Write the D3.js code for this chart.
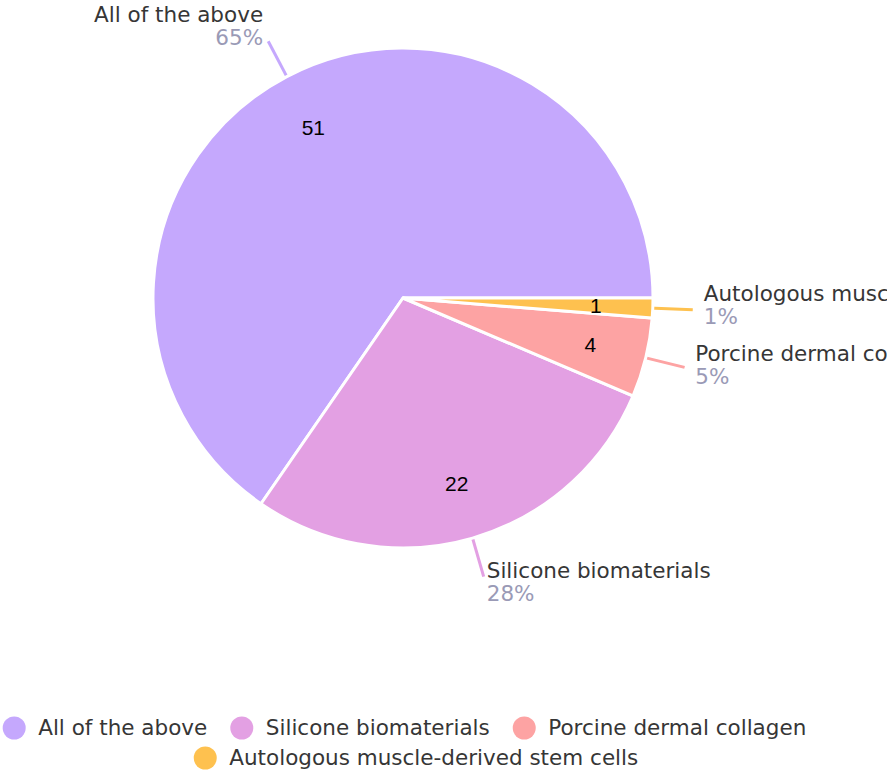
<!DOCTYPE html>
<html>
<head>
<meta charset="utf-8">
<script src="https://cdn.jsdelivr.net/npm/d3@7"></script>
<style>
  html, body { margin: 0; padding: 0; background: #fff; overflow: hidden; }
  svg { display: block; }
</style>
</head>
<body>
<svg id="chart" width="887" height="772"></svg>
<script>
const categories = ["All of the above", "Silicone biomaterials", "Porcine dermal collagen", "Autologous muscle-derived stem cells"];
const values = [51, 22, 4, 1];
const colors = ["#c5a8fd", "#e3a0e3", "#fda3a3", "#fec14f"];

const W = 887, H = 772;
const cx = 403, cy = 298, R = 250;
const labelFont = "'DejaVu Sans', sans-serif";
const textColor = "#363636";
const pctColor = "#9a9ab6";

const data = categories.map((c, i) => ({ name: c, value: values[i], color: colors[i] }));
const total = d3.sum(values);

const svg = d3.select("#chart");
const g = svg.append("g").attr("transform", `translate(${cx},${cy})`);

const pie = d3.pie().sort(null).value(d => d.value)
  .startAngle(Math.PI / 2).endAngle(Math.PI / 2 - 2 * Math.PI);
const arcs = pie(data);
const arc = d3.arc().innerRadius(0).outerRadius(R);

const mid = a => (a.startAngle + a.endAngle) / 2;
const pt = (ang, r) => [Math.sin(ang) * r, -Math.cos(ang) * r];

// connectors
g.selectAll("line.conn").data(arcs).enter().append("line")
  .attr("class", "conn")
  .attr("x1", d => pt(mid(d), R - 4)[0])
  .attr("y1", d => pt(mid(d), R - 4)[1])
  .attr("x2", d => pt(mid(d), R + 40)[0])
  .attr("y2", d => pt(mid(d), R + 40)[1])
  .attr("stroke", d => d.data.color)
  .attr("stroke-width", 3);

// slices
g.selectAll("path.slice").data(arcs).enter().append("path")
  .attr("class", "slice")
  .attr("d", arc)
  .attr("fill", d => d.data.color)
  .attr("stroke", "#fff")
  .attr("stroke-width", 3)
  .attr("stroke-linejoin", "miter");

// inner value labels
g.selectAll("text.val").data(arcs).enter().append("text")
  .attr("class", "val")
  .attr("x", d => pt(mid(d), 193)[0])
  .attr("y", d => pt(mid(d), 193)[1] + 7.5)
  .attr("text-anchor", "middle")
  .attr("font-family", "'Liberation Sans', Arial, sans-serif")
  .attr("font-size", 21)
  .attr("fill", "#000")
  .text(d => d.data.value);

// outer labels
const lab = g.selectAll("g.lab").data(arcs).enter().append("g").attr("class", "lab")
  .attr("transform", d => { const p = pt(mid(d), R + 51); return `translate(${p[0]},${p[1]})`; });
lab.append("text")
  .attr("y", -9)
  .attr("text-anchor", d => Math.sin(mid(d)) < 0 ? "end" : "start")
  .attr("font-family", labelFont).attr("font-size", 21.5).attr("fill", textColor)
  .text(d => d.data.name);
lab.append("text")
  .attr("y", 14)
  .attr("text-anchor", d => Math.sin(mid(d)) < 0 ? "end" : "start")
  .attr("font-family", labelFont).attr("font-size", 21.5).attr("fill", pctColor)
  .text(d => Math.round(d.data.value / total * 100) + "%");

// legend
const legend = svg.append("g");
const circR = 11.5, textGap = 12.5, itemGap = 23, maxRow = 840, legCenter = 416;
const rowY = [728, 758];
const items = data.map((d, i) => {
  const it = legend.append("g");
  it.append("circle").attr("r", circR).attr("cx", circR).attr("cy", 0).attr("fill", d.color);
  const t = it.append("text").attr("x", 2 * circR + textGap).attr("y", 7)
    .attr("font-family", labelFont).attr("font-size", 21.5).attr("fill", textColor).text(d.name);
  const w = 2 * circR + textGap + t.node().getComputedTextLength();
  return { it, w, last: i === data.length - 1 };
});
const rows = [];
let cur = [], curW = 0;
items.forEach(o => {
  const add = o.w + (o.last ? 0 : itemGap);
  if (cur.length && curW + o.w > maxRow) { rows.push({ items: cur, w: curW }); cur = []; curW = 0; }
  cur.push(o); curW += add;
});
if (cur.length) rows.push({ items: cur, w: curW });
rows.forEach((r, ri) => {
  let x = legCenter - r.w / 2;
  r.items.forEach(o => {
    o.it.attr("transform", `translate(${x},${rowY[ri] !== undefined ? rowY[ri] : 728 + ri * 30})`);
    x += o.w + itemGap;
  });
});
</script>
</body>
</html>
